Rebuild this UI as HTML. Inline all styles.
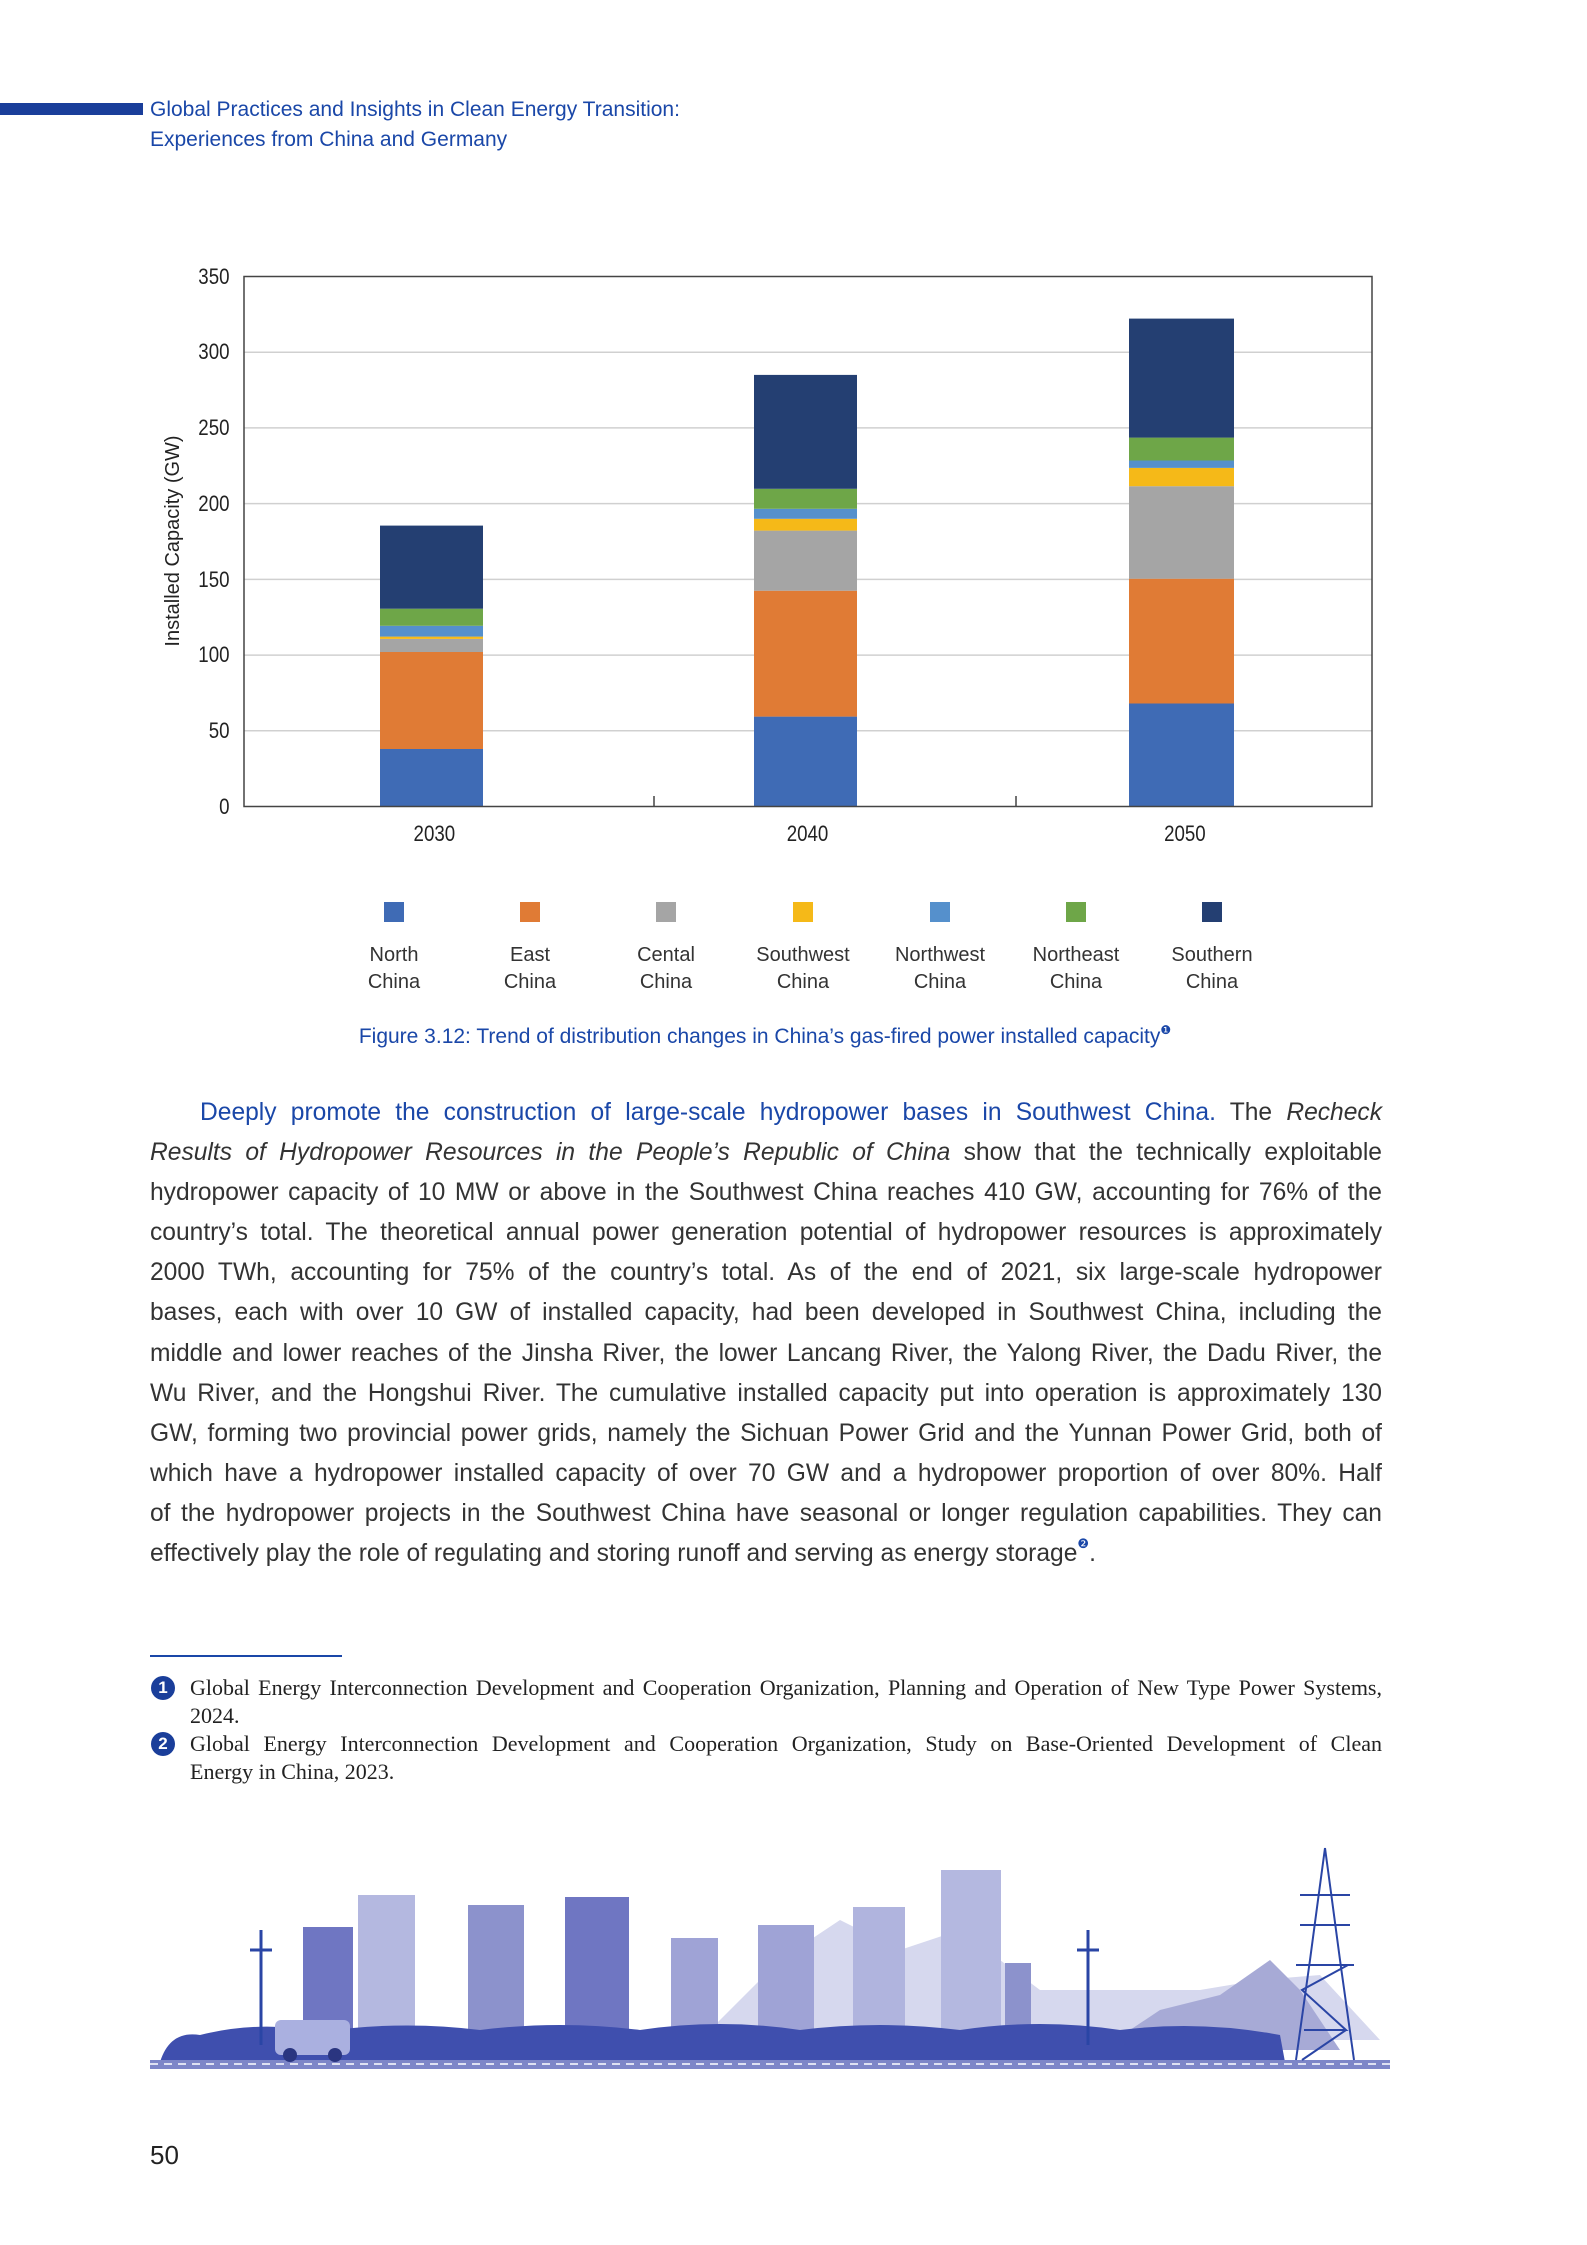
<!DOCTYPE html>
<html><head><meta charset="utf-8"><style>
html,body{margin:0;padding:0;background:#fff}
#p{position:relative;width:1587px;height:2245px;overflow:hidden;font-family:"Liberation Sans",sans-serif}
.a{position:absolute}
.hd{left:150px;color:#1a47a8;font-size:21px;line-height:30px}
.body{position:absolute;left:150px;width:1232px;top:1093px;font-size:24.6px;line-height:40.1px;color:#333}
.body div{text-align:justify;text-align-last:justify;white-space:nowrap;height:40.1px}
.body div.l{text-align-last:left}
.fn{position:absolute;left:190px;width:1192px;font-family:"Liberation Serif",serif;font-size:22px;line-height:28px;color:#222;text-align:justify}
.fn .j{text-align-last:justify;white-space:nowrap}
.num{position:absolute;left:151px;width:24px;height:24px;border-radius:50%;background:#1a3e9a;color:#fff;font-size:17px;font-weight:bold;text-align:center;line-height:24px;font-family:"Liberation Sans",sans-serif}
</style></head><body><div id="p">
<div class="a" style="left:0;top:103px;width:143px;height:12px;background:#1a3e9a"></div>
<div class="a hd" style="top:95px">Global Practices and Insights in Clean Energy Transition:</div>
<div class="a hd" style="top:125px">Experiences from China and Germany</div>

<svg class="a" style="left:0;top:0" width="1587" height="1100" font-family="Liberation Sans, sans-serif">
<g stroke="#d0d0d0" stroke-width="1.5">
<line x1="244" x2="1372" y1="730.8" y2="730.8"/><line x1="244" x2="1372" y1="655.1" y2="655.1"/>
<line x1="244" x2="1372" y1="579.4" y2="579.4"/><line x1="244" x2="1372" y1="503.6" y2="503.6"/>
<line x1="244" x2="1372" y1="427.9" y2="427.9"/><line x1="244" x2="1372" y1="352.2" y2="352.2"/>
</g>
<rect x="380" width="103" y="749" height="57.5" fill="#3f6bb5"/>
<rect x="380" width="103" y="652" height="97" fill="#e07b35"/>
<rect x="380" width="103" y="638.9" height="13.1" fill="#a5a5a5"/>
<rect x="380" width="103" y="636.6" height="2.3" fill="#f5b918"/>
<rect x="380" width="103" y="625.8" height="10.8" fill="#5590cc"/>
<rect x="380" width="103" y="608.7" height="17.1" fill="#6ea648"/>
<rect x="380" width="103" y="525.6" height="83.1" fill="#243f72"/>
<rect x="754" width="103" y="716.6" height="89.9" fill="#3f6bb5"/>
<rect x="754" width="103" y="590.7" height="125.9" fill="#e07b35"/>
<rect x="754" width="103" y="530.6" height="60.1" fill="#a5a5a5"/>
<rect x="754" width="103" y="518.8" height="11.8" fill="#f5b918"/>
<rect x="754" width="103" y="508.8" height="10" fill="#5590cc"/>
<rect x="754" width="103" y="488.8" height="20" fill="#6ea648"/>
<rect x="754" width="103" y="374.9" height="113.9" fill="#243f72"/>
<rect x="1129" width="105" y="703.5" height="103" fill="#3f6bb5"/>
<rect x="1129" width="105" y="578.7" height="124.8" fill="#e07b35"/>
<rect x="1129" width="105" y="486.2" height="92.5" fill="#a5a5a5"/>
<rect x="1129" width="105" y="467.9" height="18.3" fill="#f5b918"/>
<rect x="1129" width="105" y="460.5" height="7.4" fill="#5590cc"/>
<rect x="1129" width="105" y="437.6" height="22.9" fill="#6ea648"/>
<rect x="1129" width="105" y="318.6" height="119" fill="#243f72"/>
<rect x="244" y="276.5" width="1128" height="530" fill="none" stroke="#444" stroke-width="1.5"/>
<line x1="654" x2="654" y1="796" y2="806" stroke="#444" stroke-width="1.5"/>
<line x1="1016" x2="1016" y1="796" y2="806" stroke="#444" stroke-width="1.5"/>
<g font-size="22" fill="#222" text-anchor="end" transform="scale(0.85,1)">
<text x="270" y="284">350</text><text x="270" y="359">300</text><text x="270" y="435">250</text>
<text x="270" y="511">200</text><text x="270" y="587">150</text><text x="270" y="662">100</text>
<text x="270" y="738">50</text><text x="270" y="814">0</text>
</g>
<text transform="translate(179,541) rotate(-90)" font-size="20" fill="#222" text-anchor="middle">Installed Capacity (GW)</text>
<g font-size="22" fill="#222" text-anchor="middle" transform="scale(0.85,1)">
<text x="511" y="841">2030</text><text x="950" y="841">2040</text><text x="1394" y="841">2050</text>
</g>
<rect x="384" y="902" width="20" height="20" fill="#3f6bb5"/>
<rect x="520" y="902" width="20" height="20" fill="#e07b35"/>
<rect x="656" y="902" width="20" height="20" fill="#a5a5a5"/>
<rect x="793" y="902" width="20" height="20" fill="#f5b918"/>
<rect x="930" y="902" width="20" height="20" fill="#5590cc"/>
<rect x="1066" y="902" width="20" height="20" fill="#6ea648"/>
<rect x="1202" y="902" width="20" height="20" fill="#243f72"/>
<g font-size="20" fill="#333" text-anchor="middle">
<text x="394" y="961">North</text><text x="394" y="988">China</text>
<text x="530" y="961">East</text><text x="530" y="988">China</text>
<text x="666" y="961">Cental</text><text x="666" y="988">China</text>
<text x="803" y="961">Southwest</text><text x="803" y="988">China</text>
<text x="940" y="961">Northwest</text><text x="940" y="988">China</text>
<text x="1076" y="961">Northeast</text><text x="1076" y="988">China</text>
<text x="1212" y="961">Southern</text><text x="1212" y="988">China</text>
</g>
<text x="765" y="1043" font-size="21" fill="#1a47a8" text-anchor="middle">Figure 3.12: Trend of distribution changes in China’s gas-fired power installed capacity<tspan font-size="12" dy="-9">❶</tspan></text>
</svg>

<div class="body">
<div style="padding-left:50px"><span style="color:#1a47a8">Deeply promote the construction of large-scale hydropower bases in Southwest China.</span> The <i>Recheck</i></div>
<div><i>Results of Hydropower Resources in the People’s Republic of China</i> show that the technically exploitable</div>
<div>hydropower capacity of 10 MW or above in the Southwest China reaches 410 GW, accounting for 76% of the</div>
<div>country’s total. The theoretical annual power generation potential of hydropower resources is approximately</div>
<div>2000 TWh, accounting for 75% of the country’s total. As of the end of 2021, six large-scale hydropower</div>
<div>bases, each with over 10 GW of installed capacity, had been developed in Southwest China, including the</div>
<div>middle and lower reaches of the Jinsha River, the lower Lancang River, the Yalong River, the Dadu River, the</div>
<div>Wu River, and the Hongshui River. The cumulative installed capacity put into operation is approximately 130</div>
<div>GW, forming two provincial power grids, namely the Sichuan Power Grid and the Yunnan Power Grid, both of</div>
<div>which have a hydropower installed capacity of over 70 GW and a hydropower proportion of over 80%. Half</div>
<div>of the hydropower projects in the Southwest China have seasonal or longer regulation capabilities. They can</div>
<div class="l">effectively play the role of regulating and storing runoff and serving as energy storage<span style="font-size:13px;color:#1a47a8;vertical-align:top;line-height:20px">❷</span>.</div>
</div>

<div class="a" style="left:150px;top:1655px;width:192px;height:1.5px;background:#1a47a8"></div>
<div class="num" style="top:1676px">1</div>
<div class="fn" style="top:1674px"><div class="j">Global Energy Interconnection Development and Cooperation Organization, Planning and Operation of New Type Power Systems,</div><div>2024.</div></div>
<div class="num" style="top:1732px">2</div>
<div class="fn" style="top:1730px"><div class="j">Global Energy Interconnection Development and Cooperation Organization, Study on Base-Oriented Development of Clean</div><div>Energy in China, 2023.</div></div>

<svg class="a" style="left:0;top:1840px" width="1587" height="240">
<g transform="translate(0,-1840)">
<path d="M700 2040 L780 1960 L840 1920 L900 1950 L960 1930 L1040 1990 L1120 1990 L1200 1990 L1260 1980 L1320 1975 L1380 2040 Z" fill="#d6d8ee"/>
<path d="M1100 2050 L1160 2010 L1220 1995 L1270 1960 L1300 1990 L1340 2050 Z" fill="#a7aad6"/>
<g fill="#9fa3d6">
<rect x="303" y="1927" width="50" height="110" fill="#6f76c2"/>
<rect x="358" y="1895" width="57" height="140" fill="#b4b8e0"/>
<rect x="468" y="1905" width="56" height="130" fill="#8c92cc"/>
<rect x="565" y="1897" width="64" height="140" fill="#6f76c2"/>
<rect x="671" y="1938" width="47" height="100"/>
<rect x="758" y="1925" width="56" height="110"/>
<rect x="853" y="1907" width="52" height="130" fill="#b0b4de"/>
<rect x="941" y="1870" width="60" height="165" fill="#b4b8e0"/>
<rect x="1005" y="1963" width="26" height="75" fill="#8c92cc"/>
</g>
<path d="M160 2062 Q170 2030 200 2035 Q260 2020 320 2032 Q400 2020 480 2030 Q560 2020 640 2030 Q720 2018 800 2030 Q880 2020 960 2030 Q1040 2018 1120 2030 Q1200 2020 1280 2035 L1285 2062 Z" fill="#3f4fae"/>
<rect x="150" y="2060" width="1240" height="9" fill="#7d86c8"/>
<line x1="150" x2="1390" y1="2064" y2="2064" stroke="#fff" stroke-width="1.5" stroke-dasharray="8 6"/>
<g stroke="#2a45a5" stroke-width="3" fill="none">
<line x1="261" y1="1930" x2="261" y2="2045"/><line x1="250" y1="1950" x2="272" y2="1950"/>
<line x1="1088" y1="1930" x2="1088" y2="2045"/><line x1="1077" y1="1950" x2="1099" y2="1950"/>
</g>
<g stroke="#2a45a5" stroke-width="2" fill="none">
<path d="M1325 1848 L1318 1900 L1310 1960 L1296 2060 M1325 1848 L1332 1900 L1340 1960 L1354 2060 M1300 1895 H1350 M1300 1925 H1350 M1296 1965 H1354 M1304 2030 H1346 L1302 1990 L1348 1965 M1346 2030 L1302 2060"/>
</g>
<rect x="275" y="2020" width="75" height="35" rx="6" fill="#aab0e0"/>
<circle cx="290" cy="2055" r="7" fill="#2a3580"/><circle cx="335" cy="2055" r="7" fill="#2a3580"/>
</g>
</svg>

<div class="a" style="left:150px;top:2140px;font-size:26px;color:#222">50</div>
</div></body></html>
